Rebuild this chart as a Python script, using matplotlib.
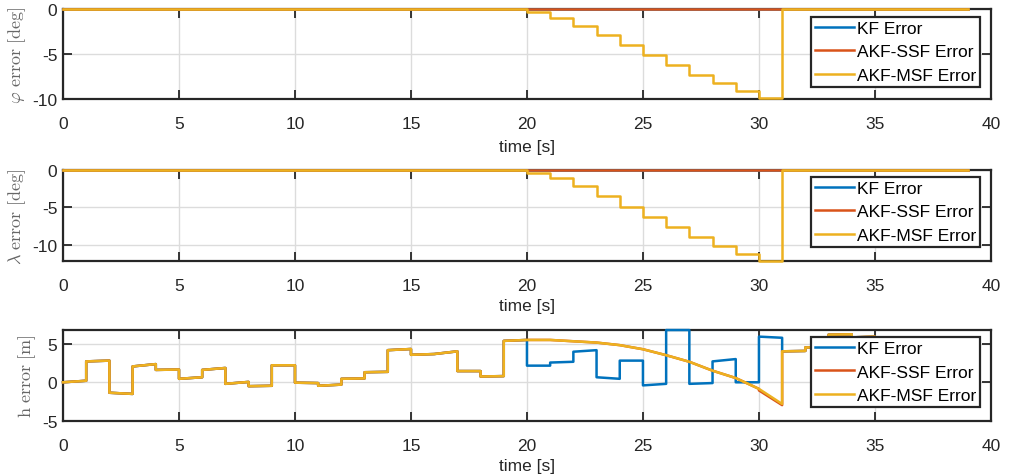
import numpy as np
import matplotlib
matplotlib.use("Agg")
import matplotlib.pyplot as plt

plt.rcParams['font.family'] = ['Liberation Sans', 'DejaVu Sans']
plt.rcParams['mathtext.fontset'] = 'cm'
plt.rcParams['axes.unicode_minus'] = False

# colours (MATLAB default order)
c_kf = '#0072BD'
c_ssf = '#D95319'
c_msf = '#EDB120'

# ---- latitude / longitude errors: one level per interval between edges ----
ang_edges = [0, 20, 21, 22, 23, 24, 25, 26, 27, 28, 29, 30, 31, 39]
phi_kf = [0, 0, 0, 0, 0, 0, 0, 0, 0, 0, 0, 0, 0]
phi_ssf = [0, 0, 0, 0, 0, 0, 0, 0, 0, 0, 0, 0, 0]
phi_msf = [0, -0.37, -1.0, -1.85, -2.85, -4.0, -5.1, -6.2, -7.3, -8.2, -9.07, -9.85, 0]
lam_kf = [0, 0, 0, 0, 0, 0, 0, 0, 0, 0, 0, 0, 0]
lam_ssf = [0, 0, 0, 0, 0, 0, 0, 0, 0, 0, 0, 0, 0]
lam_msf = [0, -0.36, -1.1, -2.2, -3.5, -4.9, -6.3, -7.7, -9.0, -10.2, -11.3, -12.2, 0]

# ---- height error: one (start, end) pair per second, 0..39 s ----
h_msf = [(0, 0.2), (2.7, 2.8), (-1.35, -1.5), (2.05, 2.35), (1.6, 1.65),
         (0.45, 0.65), (1.6, 1.85), (-0.2, 0.05), (-0.5, -0.45), (2.2, 2.2),
         (-0.05, -0.1), (-0.45, -0.3), (0.45, 0.5), (1.3, 1.35), (4.15, 4.3),
         (3.55, 3.65), (3.65, 4.0), (1.45, 1.45), (0.75, 0.8), (5.35, 5.47),
         (5.47, 5.47), (5.47, 5.3), (5.3, 5.13), (5.13, 4.8), (4.8, 4.27),
         (4.27, 3.5), (3.5, 2.65), (2.65, 1.5), (1.5, 0.55), (0.55, -0.85),
         (-0.85, -2.8), (4.0, 4.05), (4.5, 4.55), (6.15, 6.2), (5.8, 5.9),
         (5.6, 5.7), (5.5, 5.6), (5.3, 5.4), (5.2, 5.3)]
h_ssf = h_msf[:30] + [(-1.05, -2.95)] + h_msf[31:]
h_kf = h_msf[:20] + [(2.15, 2.15), (2.55, 2.65), (3.95, 4.15), (0.65, 0.45),
                     (2.8, 2.8), (-0.4, -0.2), (6.75, 6.75), (-0.2, -0.1),
                     (2.7, 3.0), (0.0, 0.0), (5.9, 5.75)] + h_msf[31:]

x_ticks = [0, 5, 10, 15, 20, 25, 30, 35, 40]


def levels_to_xy(edges, levels):
    t = np.repeat(edges, 2)[1:-1]
    y = np.repeat(levels, 2)
    return t, y


def segs_to_xy(segs):
    n = len(segs)
    t = np.repeat(np.arange(n + 1), 2)[1:-1]
    y = np.array(segs, dtype=float).ravel()
    return t, y


fig = plt.figure(figsize=(10.13, 4.77), dpi=100)
boxes = [[0.0622, 0.790, 0.916, 0.189],
         [0.0622, 0.4507, 0.916, 0.1908],
         [0.0622, 0.1153, 0.916, 0.1907]]

panels = [
    (levels_to_xy(ang_edges, phi_kf), levels_to_xy(ang_edges, phi_ssf), levels_to_xy(ang_edges, phi_msf),
     (-10, 0), [-10, -5, 0], r'$\varphi\ \mathrm{error\ [deg]}$', 0.911, 6),
    (levels_to_xy(ang_edges, lam_kf), levels_to_xy(ang_edges, lam_ssf), levels_to_xy(ang_edges, lam_msf),
     (-12.2, 0), [-10, -5, 0], r'$\lambda\ \mathrm{error\ [deg]}$', 0.923, 4),
    (segs_to_xy(h_kf), segs_to_xy(h_ssf), segs_to_xy(h_msf),
     (-5, 6.75), [-5, 0, 5], r'$\mathrm{h\ error\ [m]}$', 0.923, 4),
]

for box, (kf, ssf, msf, ylim, yt, ylab, legtop, xlpad) in zip(boxes, panels):
    ax = fig.add_axes(box)
    ax.plot(kf[0], kf[1], color=c_kf, lw=1.8, label='KF Error', zorder=3, clip_on=False)
    ax.plot(ssf[0], ssf[1], color=c_ssf, lw=1.8, label='AKF-SSF Error', zorder=3, clip_on=False)
    ax.plot(msf[0], msf[1], color=c_msf, lw=1.8, label='AKF-MSF Error', zorder=3, clip_on=False)
    ax.set_xlim(0, 40)
    ax.set_ylim(*ylim)
    ax.set_xticks(x_ticks)
    ax.set_yticks(yt)
    ax.grid(True, color='#dcdcdc', lw=1.0)
    ax.set_axisbelow(True)
    for s in ax.spines.values():
        s.set_linewidth(1.6)
        s.set_color('#262626')
    ax.tick_params(direction='in', length=6.5, width=1.3, top=True, right=True,
                   labelsize=12.5, colors='#262626')
    ax.tick_params(axis='x', pad=12)
    ax.tick_params(axis='y', pad=4)
    ax.set_xlabel('time [s]', fontsize=12.5, color='#262626', labelpad=xlpad)
    ax.set_ylabel(ylab, fontsize=13, color='#666666', labelpad=3)
    leg = ax.legend(loc='upper right', bbox_to_anchor=(0.988, legtop), borderaxespad=0,
                    fontsize=12.5, fancybox=False, framealpha=1, edgecolor='#262626',
                    handlelength=2.3, handletextpad=0.15, labelspacing=0.5,
                    borderpad=0.2)
    leg.get_frame().set_linewidth(1.6)
    leg.set_zorder(5)

fig.savefig('out.png', dpi=100)
